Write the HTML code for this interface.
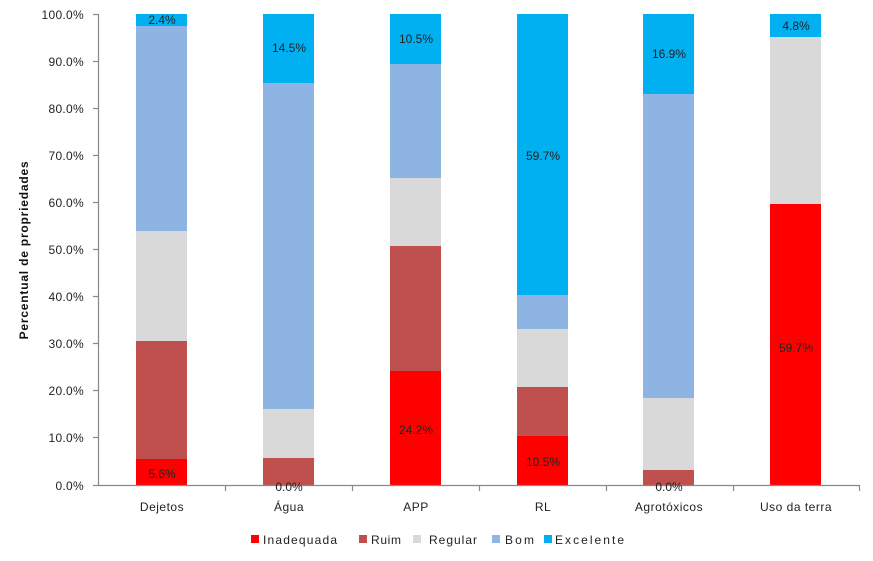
<!DOCTYPE html>
<html><head><meta charset="utf-8"><style>
html,body{margin:0;padding:0;background:#fff;}
svg{display:block;font-family:"Liberation Sans","DejaVu Sans",sans-serif;}
</style></head><body>
<svg width="873" height="561" viewBox="0 0 873 561" xmlns="http://www.w3.org/2000/svg">
<rect width="873" height="561" fill="#fff"/>
<g>
<rect x="136" y="459" width="51" height="26" fill="#ff0000"/>
<rect x="136" y="341" width="51" height="118" fill="#c0504d"/>
<rect x="136" y="231" width="51" height="110" fill="#d9d9d9"/>
<rect x="136" y="26" width="51" height="205" fill="#8eb4e3"/>
<rect x="136" y="14" width="51" height="12" fill="#00b0f0"/>
</g>
<g>
<rect x="263" y="458" width="51" height="27" fill="#c0504d"/>
<rect x="263" y="409" width="51" height="49" fill="#d9d9d9"/>
<rect x="263" y="83" width="51" height="326" fill="#8eb4e3"/>
<rect x="263" y="14" width="51" height="69" fill="#00b0f0"/>
</g>
<g>
<rect x="390" y="371" width="51" height="114" fill="#ff0000"/>
<rect x="390" y="246" width="51" height="125" fill="#c0504d"/>
<rect x="390" y="178" width="51" height="68" fill="#d9d9d9"/>
<rect x="390" y="64" width="51" height="114" fill="#8eb4e3"/>
<rect x="390" y="14" width="51" height="50" fill="#00b0f0"/>
</g>
<g>
<rect x="517" y="436" width="51" height="49" fill="#ff0000"/>
<rect x="517" y="387" width="51" height="49" fill="#c0504d"/>
<rect x="517" y="329" width="51" height="58" fill="#d9d9d9"/>
<rect x="517" y="295" width="51" height="34" fill="#8eb4e3"/>
<rect x="517" y="14" width="51" height="281" fill="#00b0f0"/>
</g>
<g>
<rect x="643" y="470" width="51" height="15" fill="#c0504d"/>
<rect x="643" y="398" width="51" height="72" fill="#d9d9d9"/>
<rect x="643" y="94" width="51" height="304" fill="#8eb4e3"/>
<rect x="643" y="14" width="51" height="80" fill="#00b0f0"/>
</g>
<g>
<rect x="770" y="204" width="51" height="281" fill="#ff0000"/>
<rect x="770" y="37" width="51" height="167" fill="#d9d9d9"/>
<rect x="770" y="14" width="51" height="23" fill="#00b0f0"/>
</g>
<g stroke="#888" stroke-width="1.2" fill="none">
<line x1="98.5" y1="14" x2="98.5" y2="485"/>
<line x1="98" y1="485.5" x2="860" y2="485.5"/>
<line x1="93" y1="14.5" x2="98" y2="14.5"/>
<line x1="93" y1="61.5" x2="98" y2="61.5"/>
<line x1="93" y1="108.5" x2="98" y2="108.5"/>
<line x1="93" y1="155.5" x2="98" y2="155.5"/>
<line x1="93" y1="202.5" x2="98" y2="202.5"/>
<line x1="93" y1="249.5" x2="98" y2="249.5"/>
<line x1="93" y1="296.5" x2="98" y2="296.5"/>
<line x1="93" y1="343.5" x2="98" y2="343.5"/>
<line x1="93" y1="390.5" x2="98" y2="390.5"/>
<line x1="93" y1="437.5" x2="98" y2="437.5"/>
<line x1="93" y1="485.5" x2="98" y2="485.5"/>
<line x1="225.5" y1="485" x2="225.5" y2="491"/>
<line x1="352.5" y1="485" x2="352.5" y2="491"/>
<line x1="479.5" y1="485" x2="479.5" y2="491"/>
<line x1="606.5" y1="485" x2="606.5" y2="491"/>
<line x1="733.5" y1="485" x2="733.5" y2="491"/>
<line x1="859.5" y1="485" x2="859.5" y2="491"/>
</g>
<g font-size="12" fill="#222" text-anchor="end" letter-spacing="0.3">
<text x="84" y="19">100.0%</text>
<text x="84" y="66">90.0%</text>
<text x="84" y="113">80.0%</text>
<text x="84" y="160">70.0%</text>
<text x="84" y="207">60.0%</text>
<text x="84" y="254">50.0%</text>
<text x="84" y="301">40.0%</text>
<text x="84" y="348">30.0%</text>
<text x="84" y="395">20.0%</text>
<text x="84" y="442">10.0%</text>
<text x="84" y="490">0.0%</text>
</g>
<g font-size="12" fill="#222" text-anchor="middle" letter-spacing="0.5">
<text x="162" y="511">Dejetos</text>
<text x="289" y="511">Água</text>
<text x="416" y="511">APP</text>
<text x="543" y="511">RL</text>
<text x="669" y="511">Agrotóxicos</text>
<text x="796" y="511">Uso da terra</text>
</g>
<g font-size="12" fill="#222" text-anchor="middle">
<text x="162" y="24">2.4%</text>
<text x="162" y="478">5.6%</text>
<text x="289" y="52">14.5%</text>
<text x="289" y="491">0.0%</text>
<text x="416" y="43">10.5%</text>
<text x="416" y="434">24.2%</text>
<text x="543" y="160">59.7%</text>
<text x="543" y="466">10.5%</text>
<text x="669" y="58">16.9%</text>
<text x="669" y="491">0.0%</text>
<text x="796" y="30">4.8%</text>
<text x="796" y="352">59.7%</text>
</g>
<text transform="translate(28,250) rotate(-90)" font-size="12" font-weight="bold" fill="#111" text-anchor="middle" letter-spacing="0.8">Percentual de propriedades</text>
<g font-size="12" fill="#222">
<rect x="251" y="535" width="8" height="8" fill="#ff0000"/><text x="263" y="544" textLength="74">Inadequada</text>
<rect x="359" y="535" width="8" height="8" fill="#c0504d"/><text x="371" y="544" textLength="30">Ruim</text>
<rect x="413" y="535" width="8" height="8" fill="#d9d9d9"/><text x="429" y="544" textLength="48">Regular</text>
<rect x="492" y="535" width="8" height="8" fill="#8eb4e3"/><text x="505" y="544" textLength="29">Bom</text>
<rect x="544" y="535" width="8" height="8" fill="#00b0f0"/><text x="555" y="544" textLength="69">Excelente</text>
</g>
</svg>
</body></html>
